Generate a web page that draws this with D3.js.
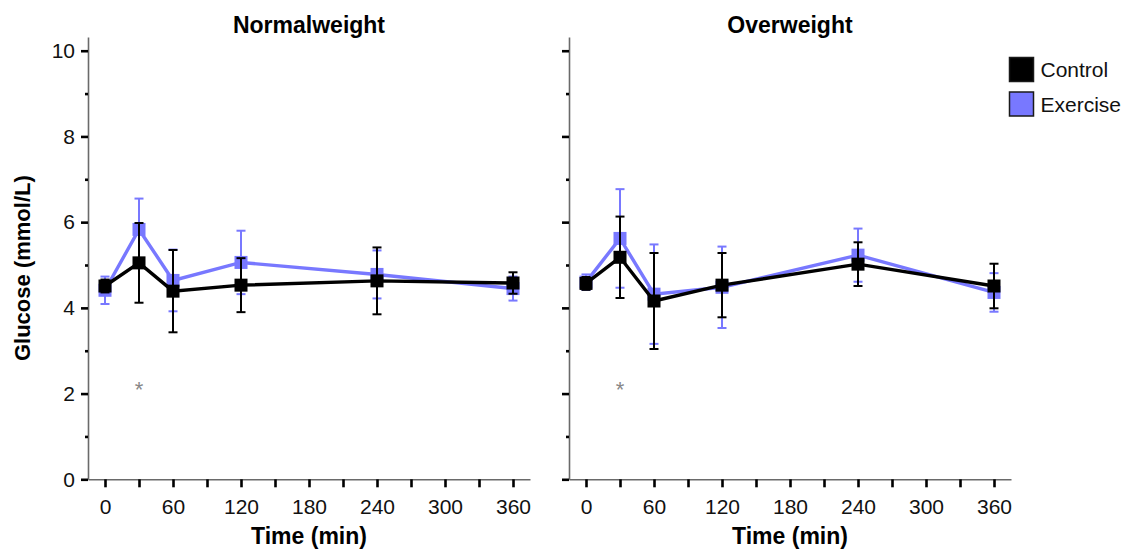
<!DOCTYPE html>
<html>
<head>
<meta charset="utf-8">
<script src="https://cdn.jsdelivr.net/npm/d3@7"></script>
<style>
  html, body { margin: 0; padding: 0; background: #fff; }
  svg { display: block; font-family: "Liberation Sans", Arial, sans-serif; }
</style>
</head>
<body>
<svg id="chart" width="1134" height="552"></svg>
<script>
// ---- data ----
const panels = ["Normalweight", "Overweight"];
const times = [0, 30, 60, 120, 240, 360];
const xTicks = [0, 30, 60, 90, 120, 150, 180, 210, 240, 270, 300, 330, 360];
const yMajorTicks = [0, 2, 4, 6, 8, 10];
const yMinorTicks = [1, 3, 5, 7, 9];
const seriesNames = ["Control", "Exercise"];

const normControl      = [4.51, 5.05, 4.39, 4.53, 4.63, 4.58];
const normControlErr   = [0.15, 0.93, 0.96, 0.63, 0.78, 0.25];
const normExercise     = [4.41, 5.83, 4.64, 5.06, 4.78, 4.45];
const normExerciseErr  = [0.32, 0.72, 0.72, 0.74, 0.56, 0.28];

const overControl      = [4.57, 5.18, 4.16, 4.53, 5.02, 4.51];
const overControlErr   = [0.15, 0.95, 1.12, 0.75, 0.51, 0.52];
const overExercise     = [4.60, 5.62, 4.32, 4.48, 5.23, 4.36];
const overExerciseErr  = [0.18, 1.15, 1.16, 0.95, 0.62, 0.45];

const sigTimes = [30];
const sigLevel = 2.2;

// ---- layout / style ----
const colors = { Control: "#000000", Exercise: "#7878ff" };
const panelRanges = [[88, 530], [569, 1011]];
const yTop = 37, yBottom = 479.3;

const svg = d3.select("#chart");

const y = d3.scaleLinear().domain([0, 10.32]).range([yBottom, yTop]);

const panelData = [
  { title: panels[0], series: [
      { name: "Exercise", v: normExercise, e: normExerciseErr },
      { name: "Control",  v: normControl,  e: normControlErr } ] },
  { title: panels[1], series: [
      { name: "Exercise", v: overExercise, e: overExerciseErr },
      { name: "Control",  v: overControl,  e: overControlErr } ] }
];

panelData.forEach((p, i) => {
  const x = d3.scaleLinear().domain([-15, 375]).range(panelRanges[i]);
  const g = svg.append("g");

  // x axis
  const xa = g.append("g").attr("transform", `translate(0,${yBottom})`)
    .call(d3.axisBottom(x).tickValues(xTicks).tickSize(8).tickSizeOuter(0).tickPadding(12)
      .tickFormat(d => d % 60 === 0 ? d : ""));
  xa.select(".domain").attr("stroke", "#6a6a6a").attr("stroke-width", 1.6);
  xa.selectAll(".tick line").attr("stroke", "#000").attr("stroke-width", 2.6);
  xa.selectAll(".tick text").attr("font-size", 21).attr("fill", "#111")
    .attr("font-family", "'Liberation Sans', Arial, sans-serif");

  // y axis major
  const ya = g.append("g").attr("transform", `translate(${panelRanges[i][0]},0)`)
    .call(d3.axisLeft(y).tickValues(yMajorTicks).tickSize(7).tickSizeOuter(0).tickPadding(6)
      .tickFormat(d => i === 0 ? d : ""));
  ya.select(".domain").attr("stroke", "#6a6a6a").attr("stroke-width", 1.6);
  ya.selectAll(".tick line").attr("stroke", "#000").attr("stroke-width", 2.6);
  ya.selectAll(".tick text").attr("font-size", 21).attr("fill", "#111")
    .attr("font-family", "'Liberation Sans', Arial, sans-serif");

  // y axis minor
  const ym = g.append("g").attr("transform", `translate(${panelRanges[i][0]},0)`)
    .call(d3.axisLeft(y).tickValues(yMinorTicks).tickSize(3).tickSizeOuter(0).tickFormat(""));
  ym.select(".domain").remove();
  ym.selectAll(".tick line").attr("stroke", "#000").attr("stroke-width", 2.6);

  // title
  const cx = (panelRanges[i][0] + panelRanges[i][1]) / 2;
  g.append("text").attr("x", cx).attr("y", 33).attr("text-anchor", "middle")
    .attr("font-size", 23).attr("font-weight", "bold").attr("fill", "#000").text(p.title);

  // x axis title
  g.append("text").attr("x", cx).attr("y", 544).attr("text-anchor", "middle")
    .attr("font-size", 23).attr("font-weight", "bold").attr("fill", "#000").text("Time (min)");

  // series
  p.series.forEach(s => {
    const col = colors[s.name];
    const pts = times.map((t, k) => ({ t, v: s.v[k], e: s.e[k] }));
    // line
    g.append("path").datum(pts)
      .attr("fill", "none").attr("stroke", col).attr("stroke-width", 3.4)
      .attr("d", d3.line().x(d => x(d.t)).y(d => y(d.v)));
    // error bars
    const eb = g.append("g").selectAll("g").data(pts).join("g");
    eb.append("line")
      .attr("x1", d => x(d.t)).attr("x2", d => x(d.t))
      .attr("y1", d => y(d.v - d.e)).attr("y2", d => y(d.v + d.e))
      .attr("stroke", col).attr("stroke-width", 2);
    eb.append("line")
      .attr("x1", d => x(d.t) - 4.5).attr("x2", d => x(d.t) + 4.5)
      .attr("y1", d => y(d.v + d.e)).attr("y2", d => y(d.v + d.e))
      .attr("stroke", col).attr("stroke-width", 2);
    eb.append("line")
      .attr("x1", d => x(d.t) - 4.5).attr("x2", d => x(d.t) + 4.5)
      .attr("y1", d => y(d.v - d.e)).attr("y2", d => y(d.v - d.e))
      .attr("stroke", col).attr("stroke-width", 2);
    // markers
    g.append("g").selectAll("rect").data(pts).join("rect")
      .attr("x", d => x(d.t) - 6.5).attr("y", d => y(d.v) - 6.5)
      .attr("width", 13).attr("height", 13).attr("fill", col);
  });

  // significance asterisk
  g.append("g").selectAll("text").data(sigTimes).join("text")
    .attr("x", d => x(d)).attr("y", y(sigLevel) + 12)
    .attr("text-anchor", "middle").attr("font-size", 22).attr("fill", "#888")
    .text("*");
});

// y axis title
svg.append("text")
  .attr("transform", `translate(30,${(yTop + yBottom) / 2 + 10}) rotate(-90)`)
  .attr("text-anchor", "middle").attr("font-size", 22).attr("font-weight", "bold")
  .attr("fill", "#000").text("Glucose (mmol/L)");

// legend
const lg = svg.append("g").selectAll("g").data(seriesNames).join("g")
  .attr("transform", (d, k) => `translate(1009.5,${57.5 + k * 34.5})`);
lg.append("rect").attr("width", 24).attr("height", 24)
  .attr("fill", d => colors[d]).attr("stroke", "#1a1a1a").attr("stroke-width", 1.5);
lg.append("text").attr("x", 31).attr("y", 12).attr("dy", "0.36em")
  .attr("font-size", 21).attr("fill", "#111").text(d => d);
</script>
</body>
</html>
